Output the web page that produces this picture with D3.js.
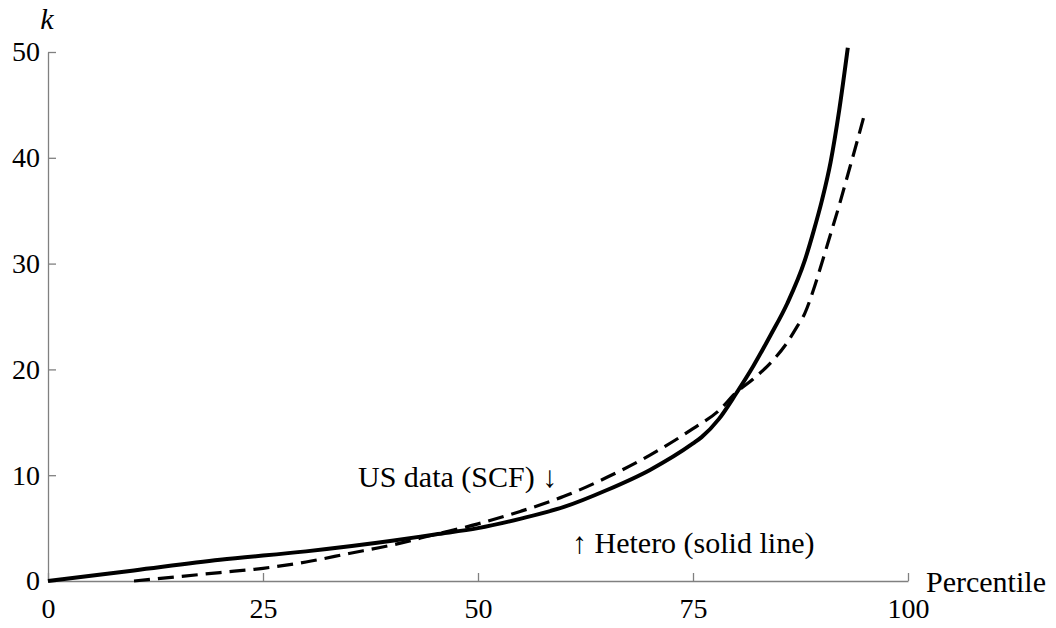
<!DOCTYPE html>
<html>
<head>
<meta charset="utf-8">
<script src="https://cdn.jsdelivr.net/npm/d3@7"></script>
<style>
  body { margin: 0; background: #fff; }
</style>
</head>
<body>
<script>
// percentile grid and k values
var heteroX = [0, 10, 20, 30, 40, 45, 50, 55, 60, 65, 70, 75, 76, 78, 80, 82, 84, 86, 88, 89, 90, 91, 92, 93];
var heteroK = [0, 1.0, 2.0, 2.8, 3.8, 4.4, 5.0, 5.9, 7.0, 8.6, 10.5, 13.0, 13.6, 15.3, 17.7, 20.3, 23.2, 26.3, 30.3, 33.0, 36.0, 39.6, 44.5, 50.4];

var scfX = [10, 15, 20, 25, 30, 35, 40, 45, 50, 55, 60, 65, 70, 75, 78, 80, 82, 84, 86, 87, 88, 89, 90, 91, 92, 93, 94, 95];
var scfK = [0, 0.4, 0.8, 1.2, 1.8, 2.6, 3.4, 4.4, 5.4, 6.6, 8.0, 9.8, 11.9, 14.4, 16.1, 17.8, 19.1, 20.6, 22.6, 23.9, 25.3, 27.5, 30.1, 32.8, 35.5, 38.4, 41.3, 44.3];

var xTicks = [0, 25, 50, 75, 100];
var yTicks = [0, 10, 20, 30, 40, 50];

var w = 1056, h = 628;
var serif = '"Liberation Serif", "Times New Roman", Times, serif';
var x = d3.scaleLinear().domain([0, 100]).range([48, 908]);
var y = d3.scaleLinear().domain([0, 50]).range([581, 52]);

var svg = d3.select('body')
            .append('svg')
            .attr('width', w)
            .attr('height', h);

var xAxis = svg.append('g')
  .attr('transform', 'translate(0,' + y(0) + ')')
  .call(d3.axisBottom(x).tickValues(xTicks).tickSize(-8).tickSizeOuter(0).tickPadding(17));

var yAxis = svg.append('g')
  .attr('transform', 'translate(' + x(0) + ',0)')
  .call(d3.axisLeft(y).tickValues(yTicks).tickSize(-8).tickSizeOuter(0).tickPadding(8));

svg.selectAll('.domain, .tick line')
   .attr('stroke', '#808080')
   .attr('stroke-width', 1.3);

svg.selectAll('.tick text')
   .attr('fill', '#000')
   .style('font-family', serif)
   .style('font-size', '28px');

// axis titles
svg.append('text')
   .attr('x', 47).attr('y', 29)
   .attr('text-anchor', 'middle')
   .style('font-family', serif)
   .style('font-style', 'italic')
   .style('font-size', '30px')
   .text('k');

svg.append('text')
   .attr('x', 926).attr('y', 592)
   .style('font-family', serif)
   .style('font-size', '30px')
   .text('Percentile');

var line = d3.line()
  .x(function(d){ return x(d[0]); })
  .y(function(d){ return y(d[1]); })
  .curve(d3.curveMonotoneX);

svg.append('path')
   .datum(d3.zip(scfX, scfK))
   .attr('d', line)
   .attr('fill', 'none')
   .attr('stroke', '#000')
   .attr('stroke-width', 3.2)
   .attr('stroke-dasharray', '16,8');

svg.append('path')
   .datum(d3.zip(heteroX, heteroK))
   .attr('d', line)
   .attr('fill', 'none')
   .attr('stroke', '#000')
   .attr('stroke-width', 4);

// annotations
svg.append('text')
   .attr('x', 358).attr('y', 487)
   .style('font-family', serif)
   .style('font-size', '30px')
   .text('US data (SCF) \u2193');

svg.append('text')
   .attr('x', 572).attr('y', 553)
   .style('font-family', serif)
   .style('font-size', '30px')
   .text('\u2191 Hetero (solid line)');
</script>
</body>
</html>
